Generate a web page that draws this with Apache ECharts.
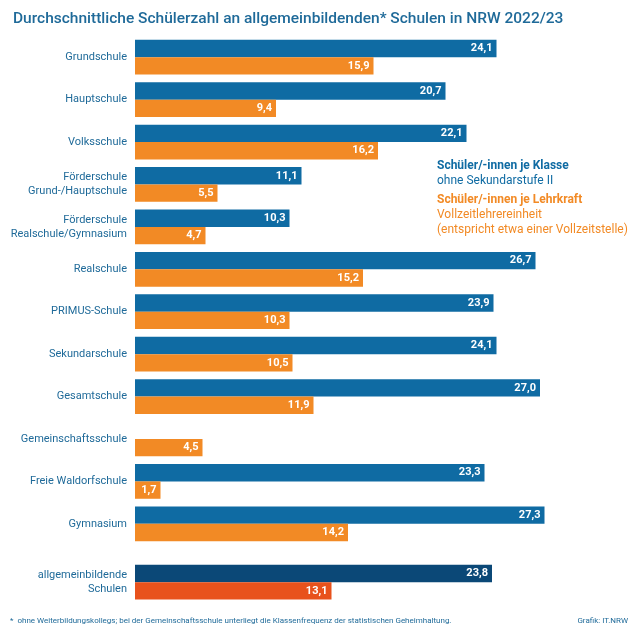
<!DOCTYPE html>
<html><head><meta charset="utf-8">
<script src="https://cdn.jsdelivr.net/npm/echarts@6/dist/echarts.min.js"></script>
<style>html,body{margin:0;padding:0;background:#fff}#c{width:636px;height:636px}</style>
</head><body><div id="c"></div>
<script>
const categories=["Grundschule","Hauptschule","Volksschule","Förderschule\nGrund-/Hauptschule","Förderschule\nRealschule/Gymnasium","Realschule","PRIMUS-Schule","Sekundarschule","Gesamtschule","Gemeinschaftsschule","Freie Waldorfschule","Gymnasium"];
const klasse=[24.1,20.7,22.1,11.1,10.3,26.7,23.9,24.1,27.0,null,23.3,27.3];
const lehrkraft=[15.9,9.4,16.2,5.5,4.7,15.2,10.3,10.5,11.9,4.5,1.7,14.2];
const totalCat=["allgemeinbildende\nSchulen"];
const totalKlasse=[23.8];
const totalLehr=[13.1];
const BLUE='#0f6ba3',ORANGE='#f28a25',NAVY='#0b4877',RED='#e8521c',TXT='#1f6a99';
const fmt=p=>p.value==null?'':p.value.toFixed(1).replace('.',',');
const lab={show:true,position:'insideRight',color:'#fff',fontWeight:'bold',fontSize:11,fontFamily:'Roboto',formatter:fmt,distance:4};
const yax=(data,gi)=>({type:'category',gridIndex:gi,data,inverse:true,axisLine:{show:false},axisTick:{show:false},axisLabel:{color:TXT,fontSize:11,fontFamily:'Roboto',lineHeight:14,margin:8}});
const xax=gi=>({type:'value',gridIndex:gi,min:0,max:30,show:false});
const chart=echarts.init(document.getElementById('c'));
chart.setOption({
  animation:false,
  title:{text:'Durchschnittliche Schülerzahl an allgemeinbildenden* Schulen in NRW 2022/23',left:8,top:6,textStyle:{color:TXT,fontSize:15.5,fontWeight:500,fontFamily:'Roboto'}},
  grid:[{left:135,right:51,top:36,height:509},{left:135,right:51,top:561,height:42.4}],
  xAxis:[xax(0),xax(1)],
  yAxis:[yax(categories,0),yax(totalCat,1)],
  series:[
    {type:'bar',xAxisIndex:0,yAxisIndex:0,data:klasse,itemStyle:{color:BLUE},barGap:'0%',barCategoryGap:'18%',label:lab},
    {type:'bar',xAxisIndex:0,yAxisIndex:0,data:lehrkraft,itemStyle:{color:ORANGE},label:lab},
    {type:'bar',xAxisIndex:1,yAxisIndex:1,data:totalKlasse,itemStyle:{color:NAVY},barGap:'0%',barCategoryGap:'18%',label:lab},
    {type:'bar',xAxisIndex:1,yAxisIndex:1,data:totalLehr,itemStyle:{color:RED},label:lab}
  ],
  graphic:[
    {type:'text',left:437,top:160,style:{text:'Schüler/-innen je Klasse',fill:BLUE,font:'bold 12px Roboto'}},
    {type:'text',left:437,top:175,style:{text:'ohne Sekundarstufe II',fill:BLUE,font:'12px Roboto'}},
    {type:'text',left:437,top:194,style:{text:'Schüler/-innen je Lehrkraft',fill:ORANGE,font:'bold 12px Roboto'}},
    {type:'text',left:437,top:209,style:{text:'Vollzeitlehrereinheit',fill:ORANGE,font:'12px Roboto'}},
    {type:'text',left:437,top:224,style:{text:'(entspricht etwa einer Vollzeitstelle)',fill:ORANGE,font:'12px Roboto'}},
    {type:'text',left:10,top:617,style:{text:'*  ohne Weiterbildungskollegs; bei der Gemeinschaftsschule unterliegt die Klassenfrequenz der statistischen Geheimhaltung.',fill:TXT,font:'8px Roboto'}},
    {type:'text',right:8,top:617,style:{text:'Grafik: IT.NRW',fill:TXT,font:'8px Roboto'}}
  ]
});
</script></body></html>
